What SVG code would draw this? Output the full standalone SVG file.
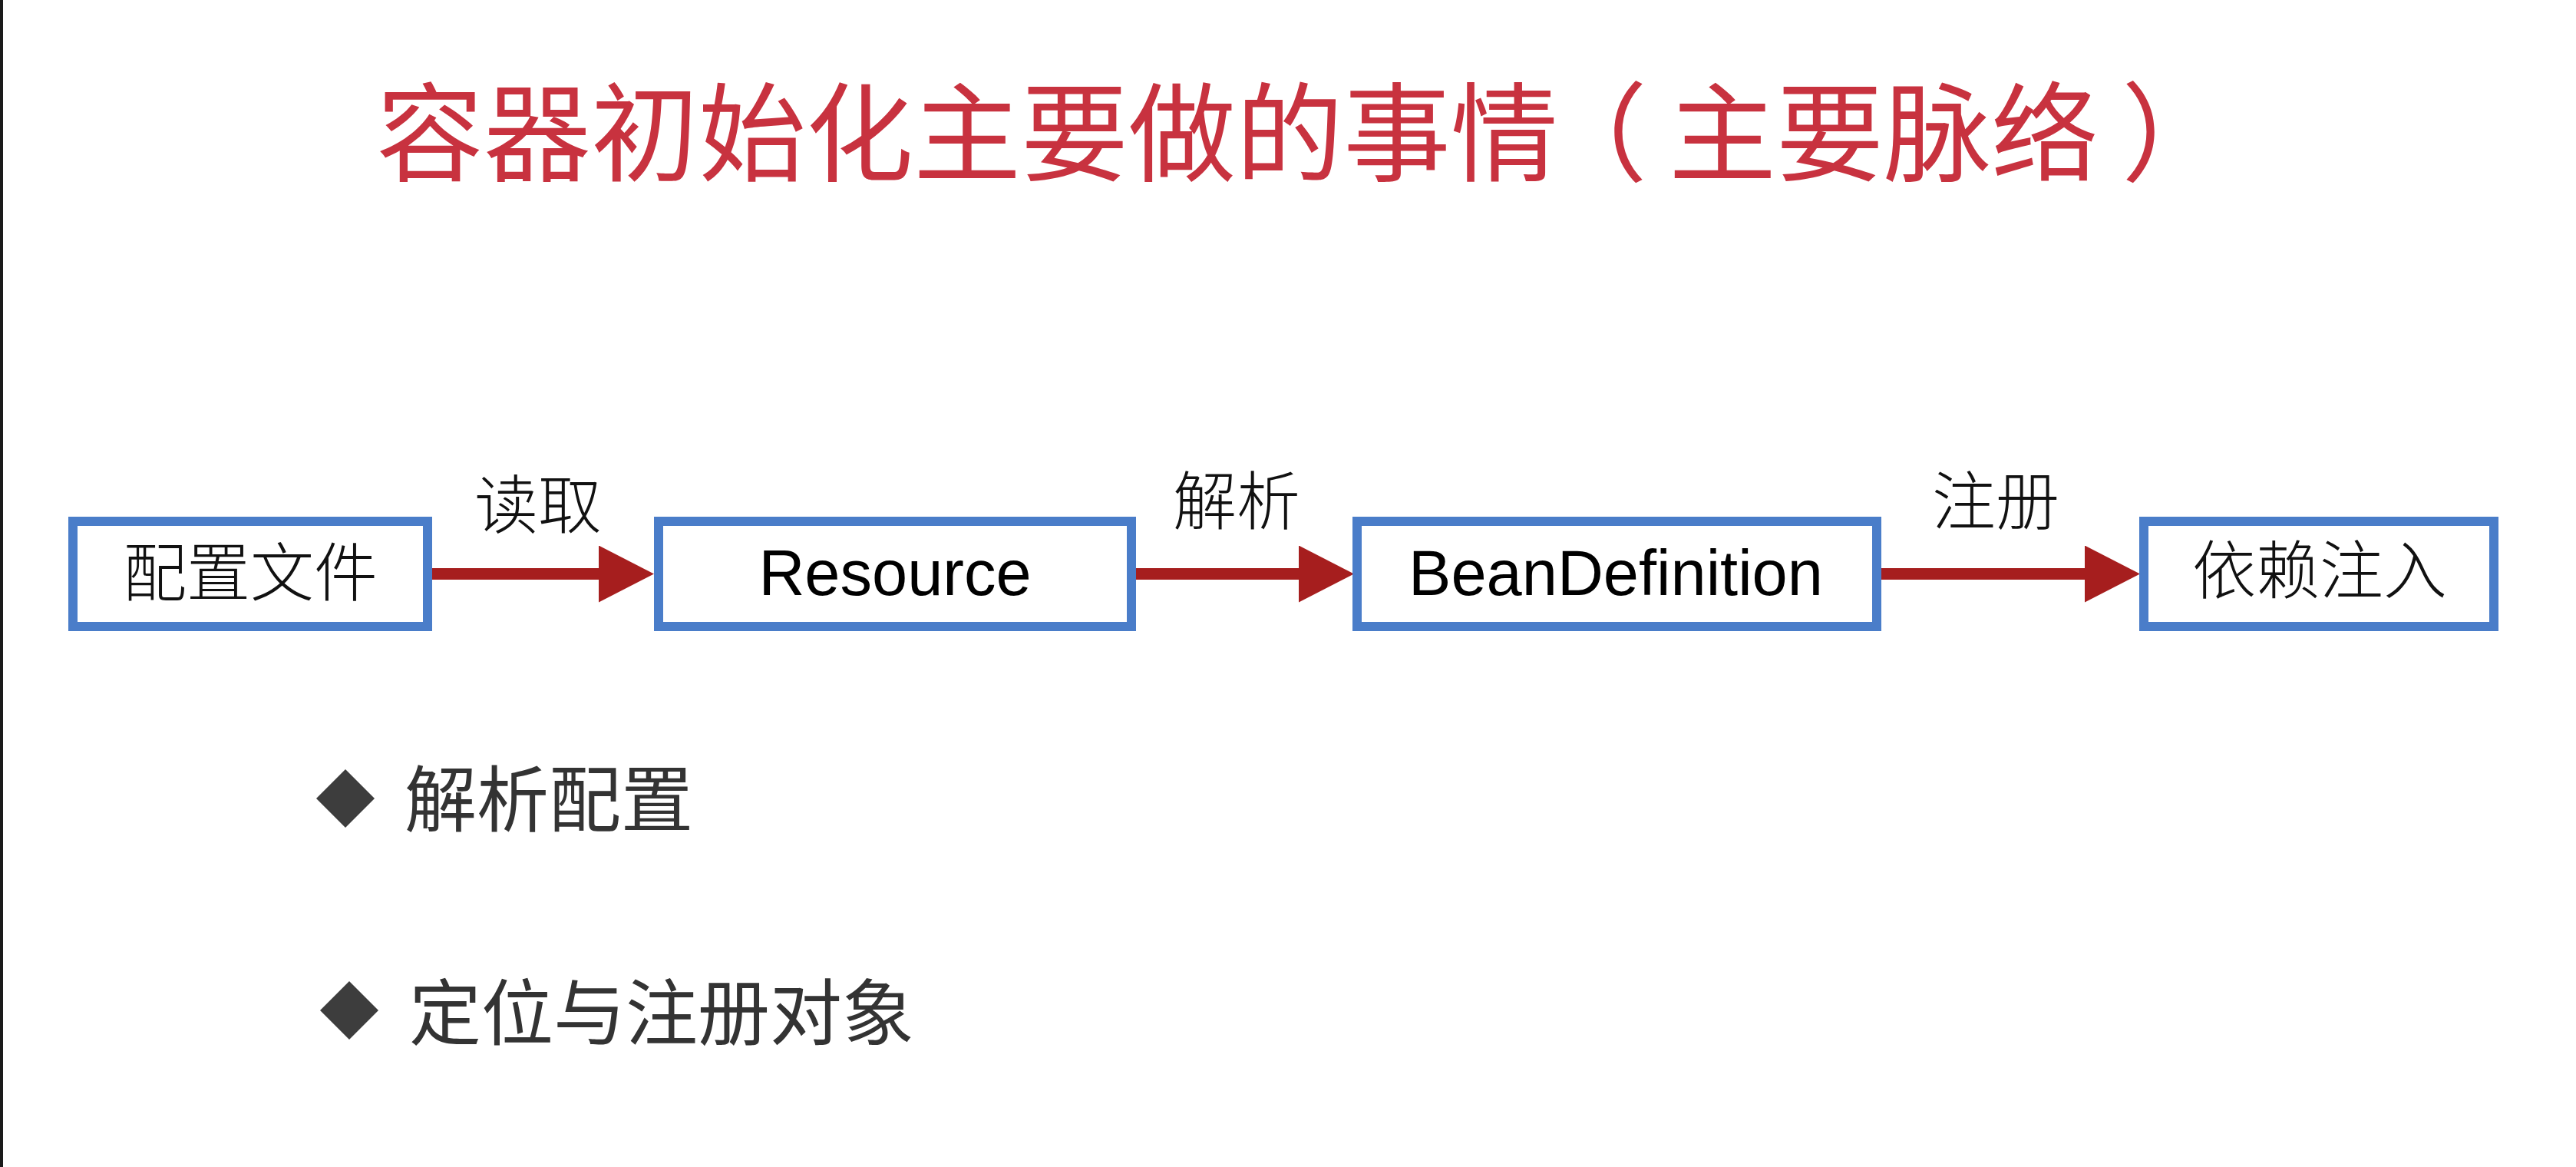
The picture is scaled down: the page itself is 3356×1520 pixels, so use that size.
<svg xmlns="http://www.w3.org/2000/svg" width="3356" height="1520" viewBox="0 0 3356 1520">
  <style>
    .box { fill: #ffffff; stroke: #4a7dc9; stroke-width: 12; }
    .cjk { font-family: "Noto Sans CJK SC", "Noto Sans", sans-serif; }
    .lbl { font-size: 83px; fill: #111111; text-anchor: middle; font-weight: 300; }
    .lat { font-family: "Liberation Sans", Arial, sans-serif; font-size: 83px; fill: #000000; text-anchor: middle; }
    .shaft { stroke: #a61e1e; stroke-width: 15; fill: none; }
    .bullet { fill: #3d3d3d; }
    .btxt { font-size: 94px; fill: #333333; }
    .title { font-size: 140px; fill: #c8323f; font-weight: 400; }
  </style>
  <defs>
    <marker id="head" markerUnits="userSpaceOnUse" markerWidth="72" markerHeight="74" refX="2" refY="37" orient="auto" viewBox="0 0 72 74">
      <path d="M0,0 L72,37 L0,74 Z" fill="#a61e1e"/>
    </marker>
  </defs>
  <rect x="0" y="0" width="3356" height="1520" fill="#ffffff"/>
  <rect x="0" y="0" width="4" height="1520" fill="#1a1a1a"/>

  <text id="title" class="cjk title" x="490" y="225">容器初始化主要做的事情<tspan dx="-24">（</tspan><tspan dx="28">主要脉络</tspan><tspan dx="30">）</tspan></text>

  <g id="connectors">
    <line class="shaft" x1="563" y1="747.5" x2="782" y2="747.5" marker-end="url(#head)"/>
    <line class="shaft" x1="1480" y1="747.5" x2="1694" y2="747.5" marker-end="url(#head)"/>
    <line class="shaft" x1="2451" y1="747.5" x2="2718" y2="747.5" marker-end="url(#head)"/>
    <text class="cjk lbl" x="701" y="688">读取</text>
    <text class="cjk lbl" x="1611" y="683">解析</text>
    <text class="cjk lbl" x="2600" y="683">注册</text>
  </g>

  <g id="node-config">
    <rect class="box" x="95" y="679" width="462" height="137"/>
    <text class="cjk lbl" x="326" y="776">配置文件</text>
  </g>
  <g id="node-resource">
    <rect class="box" x="858" y="679" width="616" height="137"/>
    <text class="lat" x="1166" y="775">Resource</text>
  </g>
  <g id="node-beandefinition">
    <rect class="box" x="1768" y="679" width="677" height="137"/>
    <text class="lat" x="2105" y="775">BeanDefinition</text>
  </g>
  <g id="node-injection">
    <rect class="box" x="2793" y="679" width="456" height="137"/>
    <text class="cjk lbl" x="3022" y="773">依赖注入</text>
  </g>

  <g id="bullet-1">
    <path class="bullet" d="M450,1002 L488,1040 L450,1078 L412,1040 Z"/>
    <text class="cjk btxt" x="527" y="1076">解析配置</text>
  </g>
  <g id="bullet-2">
    <path class="bullet" d="M455,1278 L493,1316 L455,1354 L417,1316 Z"/>
    <text class="cjk btxt" x="533" y="1354">定位与注册对象</text>
  </g>
</svg>
